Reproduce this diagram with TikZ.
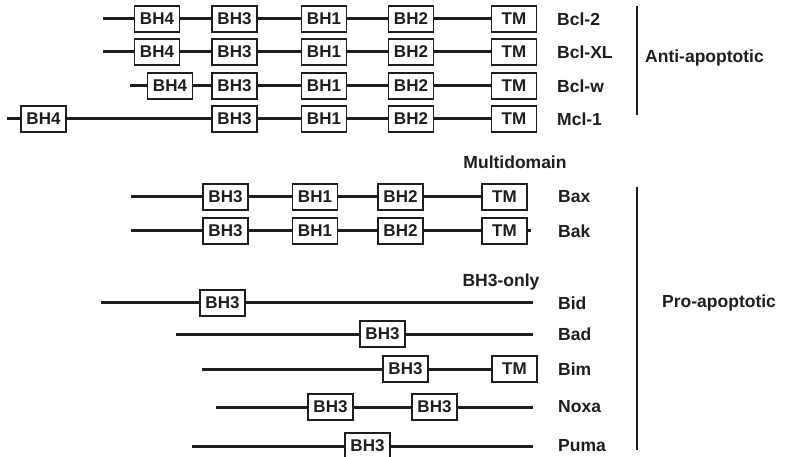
\documentclass[tikz,border=0pt]{standalone}
\usepackage{fontspec}
\setmainfont{Liberation Sans}
\definecolor{ink}{HTML}{1E1E1E}
\begin{document}
\begin{tikzpicture}[x=1pt,y=-1pt,
  dom/.style={draw=ink,line width=1.4pt,fill=white,minimum width=45pt,minimum height=26pt,inner sep=0pt,font=\fontsize{17}{17}\selectfont\bfseries,text=ink},
  chain/.style={draw=ink,line width=3pt},
  lbl/.style={anchor=west,inner sep=0pt,font=\fontsize{17.5}{17.5}\selectfont\bfseries,text=ink},
  grp/.style={draw=ink,line width=2pt}]
\useasboundingbox (0,0) rectangle (785,457);
% ---------- Anti-apoptotic ----------
% Bcl-2
\coordinate (s1) at (103,19);
\node[dom] (a4) at (157,19) {BH4};
\node[dom] (a3) at (234.5,19) {BH3};
\node[dom] (a1) at (324,19) {BH1};
\node[dom] (a2) at (411,19) {BH2};
\node[dom] (at) at (514,19) {TM};
\node[lbl] (la) at (557,19) {Bcl-2};
% Bcl-XL
\coordinate (s2) at (103,52);
\node[dom] (b4) at (157,52) {BH4};
\node[dom] (b3) at (234.5,52) {BH3};
\node[dom] (b1) at (324,52) {BH1};
\node[dom] (b2) at (411,52) {BH2};
\node[dom] (bt) at (514,52) {TM};
\node[lbl] (lb) at (557,52) {Bcl-XL};
% Bcl-w
\coordinate (s3) at (130,86);
\node[dom] (c4) at (170,86) {BH4};
\node[dom] (c3) at (234.5,86) {BH3};
\node[dom] (c1) at (324,86) {BH1};
\node[dom] (c2) at (411,86) {BH2};
\node[dom] (ct) at (514,86) {TM};
\node[lbl] (lc) at (557,86) {Bcl-w};
% Mcl-1
\coordinate (s4) at (7,119);
\node[dom] (d4) at (43.5,119) {BH4};
\node[dom] (d3) at (234.5,119) {BH3};
\node[dom] (d1) at (324,119) {BH1};
\node[dom] (d2) at (411,119) {BH2};
\node[dom] (dt) at (514,119) {TM};
\node[lbl] (ld) at (557,119) {Mcl-1};
\begin{scope}[on background layer/.style={}]
\draw[chain] (s1) -- (a4) -- (a3) -- (a1) -- (a2) -- (at);
\draw[chain] (s2) -- (b4) -- (b3) -- (b1) -- (b2) -- (bt);
\draw[chain] (s3) -- (c4) -- (c3) -- (c1) -- (c2) -- (ct);
\draw[chain] (s4) -- (d4) -- (d3) -- (d1) -- (d2) -- (dt);
\end{scope}
\coordinate (va1) at (637,6);
\coordinate (va2) at (637,115);
\draw[grp] (va1) -- (va2);
\node[lbl] (anti) at (645,58) {Anti-apoptotic};
% ---------- Multidomain ----------
\node[lbl,anchor=center] (multi) at (515,162) {Multidomain};
% Bax
\coordinate (s5) at (131,197);
\node[dom] (e3) at (225.5,197) {BH3};
\node[dom] (e1) at (315,197) {BH1};
\node[dom] (e2) at (400.5,197) {BH2};
\node[dom] (et) at (504.5,197) {TM};
\node[lbl] (le) at (558,197) {Bax};
\draw[chain] (s5) -- (e3) -- (e1) -- (e2) -- (et);
% Bak
\coordinate (s6) at (131,231);
\coordinate (e6) at (531,231);
\node[dom] (f3) at (225.5,231) {BH3};
\node[dom] (f1) at (315,231) {BH1};
\node[dom] (f2) at (400.5,231) {BH2};
\node[dom] (ft) at (504.5,231) {TM};
\node[lbl] (lf) at (558,231) {Bak};
\draw[chain] (s6) -- (f3) -- (f1) -- (f2) -- (ft) -- (e6);
% ---------- BH3-only ----------
\node[lbl,anchor=center] (bh3only) at (501,282) {BH3-only};
% Bid
\coordinate (s7) at (101,303);
\coordinate (e7) at (533,303);
\node[dom] (g3) at (222.5,303) {BH3};
\node[lbl] (lg) at (558,303) {Bid};
\draw[chain] (s7) -- (g3) -- (e7);
% Bad
\coordinate (s8) at (176,334);
\coordinate (e8) at (533,334);
\node[dom] (h3) at (382.5,334) {BH3};
\node[lbl] (lh) at (558,334) {Bad};
\draw[chain] (s8) -- (h3) -- (e8);
% Bim
\coordinate (s9) at (202,369);
\node[dom] (i3) at (405.5,369) {BH3};
\node[dom] (it) at (514.5,369) {TM};
\node[lbl] (li) at (558,369) {Bim};
\draw[chain] (s9) -- (i3) -- (it);
% Noxa
\coordinate (s10) at (216,407);
\coordinate (e10) at (533,407);
\node[dom] (j3) at (330.5,407) {BH3};
\node[dom] (k3) at (434.5,407) {BH3};
\node[lbl] (lj) at (558,407) {Noxa};
\draw[chain] (s10) -- (j3) -- (k3) -- (e10);
% Puma
\coordinate (s11) at (192,446);
\coordinate (e11) at (533,446);
\node[dom] (m3) at (367.5,446) {BH3};
\node[lbl] (lm) at (558,446) {Puma};
\draw[chain] (s11) -- (m3) -- (e11);
\coordinate (vp1) at (637,187);
\coordinate (vp2) at (637,450);
\draw[grp] (vp1) -- (vp2);
\node[lbl] (pro) at (662,303) {Pro-apoptotic};
\end{tikzpicture}
\end{document}
